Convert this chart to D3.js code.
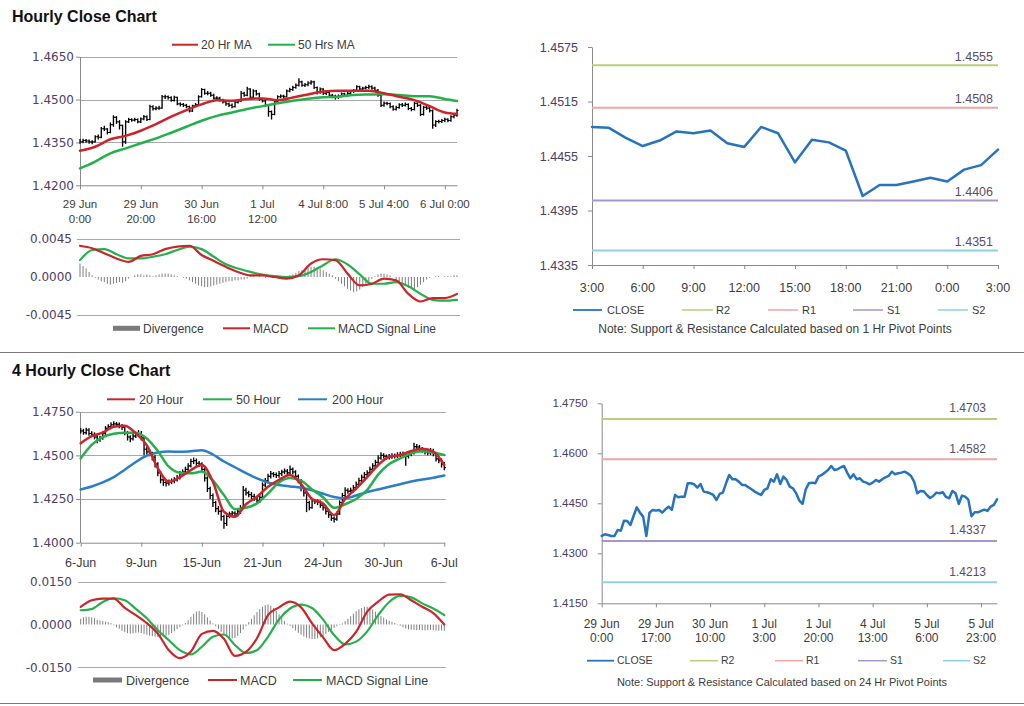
<!DOCTYPE html>
<html><head><meta charset="utf-8">
<script src="https://cdn.jsdelivr.net/npm/d3@7"></script>
<style>body{margin:0;background:#fff}svg{display:block}</style>
</head><body>
<svg id="chart" width="1024" height="706"></svg>
<script>
// ---------------- DATA ----------------
// Hourly bars (29 Jun 0:00 .. 6 Jul ~4:00), 125 bars
const hourlyClose = [1.4352,1.4357,1.4355,1.4352,1.4352,1.4370,1.4368,1.4398,1.4397,1.4385,
1.4412,1.4438,1.4422,1.4410,1.4352,1.4422,1.4430,1.4428,1.4430,1.4422,
1.4432,1.4440,1.4430,1.4475,1.4468,1.4470,1.4470,1.4510,1.4510,1.4507,
1.4497,1.4508,1.4485,1.4483,1.4480,1.4475,1.4460,1.4478,1.4482,1.4510,
1.4535,1.4522,1.4522,1.4515,1.4505,1.4505,1.4498,1.4492,1.4485,1.4480,
1.4475,1.4490,1.4495,1.4522,1.4515,1.4537,1.4508,1.4530,1.4520,1.4500,
1.4495,1.4480,1.4458,1.4448,1.4492,1.4510,1.4512,1.4510,1.4530,1.4535,
1.4542,1.4550,1.4562,1.4550,1.4552,1.4558,1.4562,1.4542,1.4525,1.4537,
1.4522,1.4525,1.4515,1.4512,1.4507,1.4512,1.4520,1.4515,1.4522,1.4528,
1.4532,1.4545,1.4537,1.4540,1.4542,1.4545,1.4540,1.4532,1.4515,1.4480,
1.4487,1.4486,1.4475,1.4466,1.4472,1.4482,1.4480,1.4483,1.4469,1.4465,
1.4487,1.4480,1.4448,1.4473,1.4470,1.4461,1.4411,1.4423,1.4423,1.4427,
1.4431,1.4427,1.4440,1.4445,1.4462];
const hourlyHigh = [1.4362,1.4363,1.4362,1.4360,1.4358,1.4375,1.4378,1.4404,1.4408,1.4400,
1.4420,1.4445,1.4442,1.4428,1.4412,1.4428,1.4436,1.4435,1.4436,1.4434,
1.4437,1.4446,1.4444,1.4482,1.4480,1.4477,1.4478,1.4516,1.4517,1.4514,
1.4512,1.4513,1.4510,1.4490,1.4488,1.4485,1.4479,1.4482,1.4488,1.4515,
1.4540,1.4538,1.4530,1.4527,1.4520,1.4512,1.4510,1.4503,1.4497,1.4490,
1.4486,1.4495,1.4500,1.4530,1.4527,1.4545,1.4540,1.4536,1.4534,1.4524,
1.4506,1.4500,1.4484,1.4462,1.4497,1.4515,1.4518,1.4517,1.4535,1.4541,
1.4548,1.4556,1.4575,1.4566,1.4558,1.4564,1.4568,1.4566,1.4546,1.4542,
1.4540,1.4530,1.4528,1.4520,1.4517,1.4518,1.4525,1.4524,1.4527,1.4533,
1.4537,1.4550,1.4548,1.4545,1.4548,1.4552,1.4550,1.4545,1.4537,1.4520,
1.4493,1.4492,1.4490,1.4480,1.4478,1.4487,1.4488,1.4490,1.4487,1.4474,
1.4492,1.4490,1.4484,1.4478,1.4478,1.4474,1.4465,1.4428,1.4429,1.4432,
1.4436,1.4435,1.4445,1.4450,1.4468];
const hourlyLow = [1.4345,1.4347,1.4349,1.4345,1.4344,1.4350,1.4360,1.4365,1.4390,1.4378,
1.4382,1.4405,1.4415,1.4395,1.4335,1.4345,1.4418,1.4422,1.4423,1.4417,
1.4418,1.4428,1.4425,1.4428,1.4462,1.4463,1.4464,1.4468,1.4502,1.4500,
1.4492,1.4493,1.4480,1.4476,1.4474,1.4470,1.4455,1.4457,1.4474,1.4480,
1.4507,1.4517,1.4515,1.4510,1.4500,1.4498,1.4493,1.4486,1.4478,1.4474,
1.4470,1.4472,1.4486,1.4492,1.4510,1.4512,1.4503,1.4505,1.4514,1.4496,
1.4490,1.4475,1.4440,1.4430,1.4445,1.4488,1.4505,1.4504,1.4507,1.4526,
1.4530,1.4538,1.4546,1.4545,1.4544,1.4547,1.4552,1.4537,1.4518,1.4520,
1.4516,1.4516,1.4508,1.4505,1.4500,1.4502,1.4508,1.4510,1.4510,1.4517,
1.4523,1.4528,1.4532,1.4532,1.4535,1.4537,1.4534,1.4527,1.4510,1.4474,
1.4475,1.4480,1.4470,1.4461,1.4462,1.4468,1.4474,1.4476,1.4463,1.4459,
1.4462,1.4474,1.4442,1.4444,1.4464,1.4455,1.4398,1.4404,1.4417,1.4418,
1.4421,1.4421,1.4422,1.4435,1.4440];
const hourlyMABars = [0,5,10,15,20,25,30,35,40,45,50,55,60,65,70,75,80,85,90,95,100,105,110,115,120,124];
const hourlyMA20 = [1.4321,1.4335,1.4361,1.4373,1.4391,1.4414,1.4440,1.4463,1.4483,1.4498,1.4496,1.4502,1.4504,1.4498,1.4507,1.4518,1.4528,1.4531,1.4531,1.4531,1.4522,1.4510,1.4498,1.4477,1.4455,1.4450];
const hourlyMA50 = [1.4259,1.4283,1.4312,1.4329,1.4347,1.4364,1.4384,1.4405,1.4426,1.4443,1.4455,1.4467,1.4477,1.4487,1.4496,1.4503,1.4508,1.4510,1.4516,1.4518,1.4519,1.4516,1.4512,1.4512,1.4502,1.4495];
const hourlyTickLabels = ["29 Jun\n0:00","29 Jun\n20:00","30 Jun\n16:00","1 Jul\n12:00","4 Jul 8:00","5 Jul 4:00","6 Jul 0:00"];
const hourlyYTicks = [1.4200,1.4350,1.4500,1.4650];
// hourly MACD (sampled every 4 bars)
const hourlyMacd = [0.0037,0.0034,0.0028,0.0022,0.0018,0.0025,0.0027,0.0033,0.0036,0.0037,0.0026,0.0019,0.0012,0.0006,0.0002,0.0002,0.0000,-0.0002,0.0002,0.0016,0.0021,0.0020,0.0004,-0.0010,-0.0008,-0.0002,-0.0004,-0.0020,-0.0029,-0.0025,-0.0025,-0.0020];
const hourlySignal = [0.0020,0.0032,0.0033,0.0027,0.0022,0.0022,0.0024,0.0027,0.0032,0.0036,0.0033,0.0024,0.0015,0.0010,0.0006,0.0003,0.0001,0.0000,0.0001,0.0006,0.0014,0.0021,0.0015,0.0003,-0.0008,-0.0008,-0.0006,-0.0011,-0.0020,-0.0027,-0.0028,-0.0027];
const hourlyDivergence = [0.0016,0.0013,0.0010,0.0006,0.0002,-0.0001,
-0.0003,-0.0005,-0.0006,-0.0008,-0.0009,-0.0008,-0.0007,-0.0006,-0.0007,-0.0005,
-0.0002,0.0000,0.0002,0.0003,0.0003,0.0002,0.0003,0.0002,0.0001,0.0002,0.0003,
0.0004,0.0004,0.0004,0.0003,0.0002,0.0001,0.0000,-0.0001,-0.0002,
-0.0004,-0.0006,-0.0008,-0.0010,-0.0011,-0.0012,-0.0012,-0.0011,-0.0010,-0.0009,-0.0008,-0.0007,-0.0006,-0.0005,-0.0005,-0.0004,-0.0004,-0.0003,-0.0003,-0.0002,
0.0001,0.0001,0.0000,0.0001,0.0000,-0.0001,0.0000,0.0001,0.0000,-0.0001,0.0000,0.0000,0.0001,0.0002,0.0003,
0.0005,0.0007,0.0008,0.0010,0.0011,0.0012,0.0012,0.0011,0.0010,0.0008,0.0006,0.0004,0.0002,
-0.0002,-0.0005,-0.0008,-0.0011,-0.0014,-0.0016,-0.0018,-0.0017,-0.0015,-0.0012,-0.0008,-0.0005,-0.0002,
0.0001,0.0003,0.0004,0.0004,0.0003,0.0002,0.0000,
-0.0003,-0.0006,-0.0009,-0.0011,-0.0013,-0.0014,-0.0014,-0.0012,-0.0009,-0.0006,-0.0003,
-0.0001,0.0000,0.0001,0.0001,0.0000,0.0001,0.0001,0.0001,0.0002,0.0002];
const hourlyMacdTicks = [-0.0045,0.0000,0.0045];

// 4-hourly bars (6 Jun .. 6 Jul), 133 bars
const fourClose = [1.4640,1.4630,1.4645,1.4625,1.4620,1.4605,1.4590,1.4600,1.4625,1.4655,
1.4665,1.4675,1.4680,1.4678,1.4670,1.4660,1.4630,1.4605,1.4595,1.4610,
1.4620,1.4625,1.4600,1.4535,1.4520,1.4510,1.4490,1.4450,1.4400,1.4360,
1.4345,1.4340,1.4348,1.4352,1.4360,1.4372,1.4395,1.4405,1.4420,1.4440,
1.4465,1.4470,1.4455,1.4450,1.4420,1.4370,1.4310,1.4270,1.4230,1.4195,
1.4180,1.4150,1.4110,1.4150,1.4165,1.4170,1.4165,1.4180,1.4200,1.4300,
1.4285,1.4275,1.4265,1.4255,1.4240,1.4260,1.4330,1.4355,1.4380,1.4395,
1.4390,1.4385,1.4395,1.4405,1.4410,1.4400,1.4420,1.4405,1.4380,1.4355,
1.4310,1.4285,1.4230,1.4200,1.4240,1.4235,1.4230,1.4215,1.4200,1.4180,
1.4160,1.4140,1.4135,1.4165,1.4230,1.4270,1.4300,1.4295,1.4300,1.4315,
1.4335,1.4355,1.4375,1.4390,1.4400,1.4420,1.4440,1.4460,1.4485,1.4500,
1.4495,1.4488,1.4492,1.4498,1.4495,1.4502,1.4505,1.4508,1.4495,1.4505,
1.4515,1.4550,1.4548,1.4535,1.4530,1.4520,1.4515,1.4528,1.4510,1.4480,
1.4470,1.4450,1.4430];
const fourHigh = [1.4655,1.4652,1.4658,1.4655,1.4638,1.4632,1.4615,1.4612,1.4638,1.4668,
1.4678,1.4690,1.4695,1.4692,1.4688,1.4680,1.4668,1.4640,1.4615,1.4625,
1.4635,1.4645,1.4640,1.4605,1.4548,1.4535,1.4520,1.4500,1.4460,1.4410,
1.4372,1.4358,1.4362,1.4368,1.4375,1.4388,1.4410,1.4420,1.4435,1.4455,
1.4480,1.4488,1.4482,1.4468,1.4460,1.4430,1.4380,1.4320,1.4282,1.4240,
1.4210,1.4192,1.4160,1.4165,1.4178,1.4182,1.4180,1.4195,1.4215,1.4325,
1.4315,1.4298,1.4290,1.4280,1.4268,1.4275,1.4345,1.4370,1.4395,1.4410,
1.4405,1.4402,1.4410,1.4418,1.4425,1.4422,1.4442,1.4430,1.4415,1.4390,
1.4365,1.4320,1.4295,1.4240,1.4252,1.4250,1.4248,1.4242,1.4228,1.4212,
1.4190,1.4172,1.4150,1.4178,1.4242,1.4285,1.4318,1.4312,1.4315,1.4330,
1.4350,1.4372,1.4390,1.4405,1.4415,1.4435,1.4455,1.4475,1.4500,1.4518,
1.4512,1.4505,1.4508,1.4512,1.4510,1.4518,1.4520,1.4522,1.4515,1.4518,
1.4530,1.4572,1.4565,1.4560,1.4548,1.4542,1.4535,1.4542,1.4538,1.4520,
1.4495,1.4482,1.4462];
const fourLow = [1.4625,1.4618,1.4620,1.4612,1.4608,1.4592,1.4570,1.4578,1.4590,1.4615,
1.4645,1.4655,1.4665,1.4665,1.4655,1.4645,1.4615,1.4585,1.4575,1.4585,
1.4600,1.4605,1.4585,1.4500,1.4505,1.4495,1.4470,1.4430,1.4380,1.4340,
1.4325,1.4322,1.4328,1.4335,1.4340,1.4350,1.4362,1.4385,1.4395,1.4410,
1.4430,1.4450,1.4440,1.4435,1.4405,1.4350,1.4290,1.4250,1.4205,1.4175,
1.4160,1.4125,1.4080,1.4095,1.4140,1.4150,1.4150,1.4150,1.4165,1.4195,
1.4270,1.4260,1.4250,1.4240,1.4225,1.4228,1.4255,1.4318,1.4342,1.4368,
1.4375,1.4370,1.4372,1.4382,1.4392,1.4385,1.4388,1.4390,1.4365,1.4340,
1.4295,1.4265,1.4175,1.4185,1.4195,1.4222,1.4215,1.4200,1.4185,1.4162,
1.4142,1.4125,1.4115,1.4125,1.4160,1.4220,1.4258,1.4280,1.4282,1.4288,
1.4305,1.4325,1.4342,1.4362,1.4378,1.4388,1.4408,1.4428,1.4450,1.4475,
1.4482,1.4475,1.4476,1.4480,1.4482,1.4485,1.4490,1.4492,1.4440,1.4482,
1.4495,1.4505,1.4535,1.4520,1.4515,1.4505,1.4500,1.4502,1.4495,1.4465,
1.4455,1.4430,1.4415];
// moving averages sampled every 4 bars
const four20 = [1.4569,1.4610,1.4630,1.4664,1.4670,1.4626,1.4559,1.4426,1.4349,1.4375,1.4416,1.4445,1.4349,1.4177,1.4149,1.4220,1.4263,1.4320,1.4360,1.4387,1.4335,1.4250,1.4225,1.4158,1.4250,1.4310,1.4375,1.4445,1.4492,1.4502,1.4525,1.4538,1.4521,1.4445];
const four50 = [1.4483,1.4560,1.4605,1.4624,1.4630,1.4630,1.4597,1.4525,1.4435,1.4400,1.4397,1.4407,1.4355,1.4273,1.4192,1.4200,1.4225,1.4282,1.4345,1.4370,1.4355,1.4305,1.4260,1.4200,1.4220,1.4250,1.4302,1.4390,1.4450,1.4483,1.4512,1.4523,1.4517,1.4502];
const four200 = [1.4305,1.4322,1.4345,1.4375,1.4418,1.4462,1.4498,1.4517,1.4522,1.4520,1.4524,1.4530,1.4505,1.4465,1.4432,1.4398,1.4368,1.4345,1.4330,1.4322,1.4315,1.4300,1.4280,1.4262,1.4255,1.4270,1.4290,1.4305,1.4320,1.4335,1.4350,1.4362,1.4372,1.4385];
const fourTickLabels = ["6-Jun","9-Jun","15-Jun","21-Jun","24-Jun","30-Jun","6-Jul"];
const fourYTicks = [1.4000,1.4250,1.4500,1.4750];
const fourMacd = [0.0062,0.0085,0.0091,0.0091,0.0058,0.0033,0.0005,-0.0032,-0.0090,-0.0118,-0.0095,-0.0033,-0.0022,-0.0050,-0.0110,-0.0096,-0.0048,0.0033,0.0060,0.0080,0.0060,0.0004,-0.0045,-0.0090,-0.0068,-0.0026,0.0045,0.0080,0.0105,0.0106,0.0085,0.0062,0.0040,0.0000];
const fourSignal = [0.0050,0.0054,0.0079,0.0092,0.0085,0.0055,0.0022,-0.0020,-0.0055,-0.0090,-0.0105,-0.0078,-0.0043,-0.0035,-0.0072,-0.0100,-0.0090,-0.0043,0.0018,0.0056,0.0070,0.0058,0.0017,-0.0037,-0.0070,-0.0060,-0.0024,0.0033,0.0079,0.0100,0.0095,0.0074,0.0056,0.0033];
const fourDivergence = [0.0020,0.0025,0.0027,0.0027,0.0025,0.0022,
0.0016,0.0014,0.0012,0.0010,0.0008,0.0005,
-0.0003,-0.0010,-0.0015,-0.0022,-0.0027,-0.0030,-0.0032,-0.0031,-0.0029,-0.0028,-0.0030,-0.0033,-0.0036,
-0.0039,-0.0041,-0.0043,-0.0044,-0.0043,-0.0042,-0.0040,-0.0036,-0.0030,-0.0024,-0.0016,-0.0009,-0.0003,
0.0005,0.0015,0.0027,0.0038,0.0045,0.0047,0.0044,0.0036,0.0025,0.0014,0.0004,
-0.0006,-0.0016,-0.0026,-0.0035,-0.0042,-0.0047,-0.0049,-0.0047,-0.0040,-0.0030,-0.0018,-0.0006,
0.0008,0.0020,0.0032,0.0044,0.0054,0.0062,0.0068,0.0070,0.0066,0.0058,0.0048,0.0036,0.0024,0.0012,0.0003,
-0.0005,-0.0013,-0.0021,-0.0029,-0.0036,-0.0042,-0.0046,-0.0049,-0.0051,-0.0051,-0.0049,-0.0045,-0.0040,-0.0033,-0.0026,-0.0019,-0.0012,-0.0006,-0.0002,
0.0004,0.0012,0.0020,0.0029,0.0038,0.0046,0.0053,0.0058,0.0062,0.0062,0.0058,0.0052,0.0045,0.0037,0.0030,0.0024,0.0018,0.0013,0.0009,0.0005,0.0002,
-0.0005,-0.0010,-0.0014,-0.0017,-0.0018,-0.0019,-0.0020,-0.0019,-0.0020,-0.0021,-0.0020,-0.0019,-0.0020,-0.0021,-0.0022,-0.0021,-0.0022];
const fourMacdTicks = [-0.0150,0.0000,0.0150];

// Pivot charts
const pivotNames = ["R2","R1","S1","S2"];
const hourPivotLevels = [1.4555,1.4508,1.4406,1.4351];
const dayPivotLevels = [1.4703,1.4582,1.4337,1.4213];
const hourPivotClose = [1.4487,1.4486,1.4475,1.4466,1.4472,1.4482,1.4480,1.4483,1.4469,1.4465,
1.4487,1.4480,1.4448,1.4473,1.4470,1.4461,1.4411,1.4423,1.4423,1.4427,1.4431,1.4427,1.4440,1.4445,1.4462];
const hourPivotTickLabels = ["3:00","6:00","9:00","12:00","15:00","18:00","21:00","0:00","3:00"];
const hourPivotYTicks = [1.4335,1.4395,1.4455,1.4515,1.4575];
const dayPivotTickLabels = ["29 Jun\n0:00","29 Jun\n17:00","30 Jun\n10:00","1 Jul\n3:00","1 Jul\n20:00","4 Jul\n13:00","5 Jul\n6:00","5 Jul\n23:00"];
const dayPivotYTicks = [1.4150,1.4300,1.4450,1.4600,1.4750];

// ---------------- STYLE ----------------
const F = '"Liberation Sans", Arial, sans-serif';
const FW = '"DejaVu Sans", sans-serif';
const AX = '#8a8a8a', GRID = '#a8a8a8', TXT = '#3c3c3c', YTXT = '#4e3d62';
const RED = '#c9252b', GREEN = '#26b04c', BLUE = '#2c7ec6', CLOSE = '#2773bd';
const PIVOT_COLORS = ['#b6d07a','#eca6a6','#a796c8','#8dd2e3'];

const svg = d3.select('#chart');

function txt(g, x, y, s, o = {}) {
  return g.append('text').attr('x', x).attr('y', y).text(s)
    .attr('font-family', o.font || F).attr('font-size', o.size || 12)
    .attr('fill', o.fill || TXT).attr('text-anchor', o.anchor || 'start')
    .attr('font-weight', o.weight || 'normal');
}
function legLine(g, x1, x2, y, color, w, label, tx, size) {
  g.append('line').attr('x1', x1).attr('x2', x2).attr('y1', y).attr('y2', y)
    .attr('stroke', color).attr('stroke-width', w);
  txt(g, tx, y + size * 0.36, label, { size });
}
function legRect(g, x1, x2, y, label, tx, size) {
  g.append('rect').attr('x', x1).attr('y', y - 2.5).attr('width', x2 - x1).attr('height', 5).attr('fill', '#7a7a7a');
  txt(g, tx, y + size * 0.36, label, { size });
}
function grid(g, y, ticks, x1, x2) {
  g.append('g').selectAll('line').data(ticks).join('line')
    .attr('x1', x1).attr('x2', x2)
    .attr('y1', d => Math.round(y(d)) + 0.5).attr('y2', d => Math.round(y(d)) + 0.5)
    .attr('stroke', GRID).attr('stroke-width', 1);
}
function leftAxis(g, y, ticks, x, fmt, pad, font, size, color, showDomain = true) {
  const a = d3.axisLeft(y).tickValues(ticks).tickSize(4).tickSizeOuter(0).tickPadding(pad).tickFormat(fmt);
  const s = g.append('g').attr('transform', `translate(${x},0)`).call(a);
  s.select('.domain').attr('stroke', showDomain ? AX : 'none');
  s.selectAll('.tick line').attr('stroke', showDomain ? AX : 'none');
  s.selectAll('.tick text').attr('font-family', font).attr('font-size', size).attr('fill', color);
}
function bottomAxis(g, xs, ticks, labels, y, size, base, lineH) {
  const a = d3.axisBottom(xs).tickValues(ticks).tickSize(4).tickSizeOuter(0).tickFormat('');
  const s = g.append('g').attr('transform', `translate(0,${y})`).call(a);
  s.select('.domain').attr('stroke', AX);
  s.selectAll('.tick line').attr('stroke', AX);
  ticks.forEach((t, k) => {
    labels[k].split('\n').forEach((ln, j) => txt(g, xs(t), base + j * lineH, ln, { size, anchor: 'middle' }));
  });
}
function ohlc(g, xs, ys, high, low, close) {
  const idx = d3.range(close.length);
  const b = g.append('g').attr('stroke', '#000');
  b.selectAll('line.hl').data(idx).join('line').attr('class', 'hl')
    .attr('x1', i => xs(i)).attr('x2', i => xs(i))
    .attr('y1', i => ys(high[i])).attr('y2', i => ys(low[i])).attr('stroke-width', 1.35);
  b.selectAll('line.c').data(idx).join('line').attr('class', 'c')
    .attr('x1', i => xs(i)).attr('x2', i => xs(i) + 1.6)
    .attr('y1', i => ys(close[i])).attr('y2', i => ys(close[i])).attr('stroke-width', 1.1);
  b.selectAll('line.o').data(idx.slice(1)).join('line').attr('class', 'o')
    .attr('x1', i => xs(i) - 1.6).attr('x2', i => xs(i))
    .attr('y1', i => ys(close[i - 1])).attr('y2', i => ys(close[i - 1])).attr('stroke-width', 1.1);
}
function series(g, xs, ys, idx, vals, color, w, curve) {
  const line = d3.line().x((d, k) => xs(idx[k])).y(d => ys(d)).curve(curve || d3.curveMonotoneX);
  g.append('path').datum(vals).attr('d', line).attr('fill', 'none')
    .attr('stroke', color).attr('stroke-width', w).attr('stroke-linejoin', 'round').attr('stroke-linecap', 'round');
}
function bars(g, xs, ys, vals) {
  g.append('g').selectAll('line').data(vals).join('line')
    .attr('x1', (d, i) => xs(i)).attr('x2', (d, i) => xs(i))
    .attr('y1', ys(0)).attr('y2', d => ys(d))
    .attr('stroke', '#7f7f7f').attr('stroke-width', 1);
}
const f4 = d => d3.format('.4f')(d).replace('\u2212', '-');

// ---------------- TITLES / SEPARATORS ----------------
txt(svg, 12, 22, 'Hourly Close Chart', { size: 16, weight: 'bold', fill: '#111' });
txt(svg, 12, 376, '4 Hourly Close Chart', { size: 16, weight: 'bold', fill: '#111' });
svg.append('line').attr('x1', 0).attr('x2', 1024).attr('y1', 352.5).attr('y2', 352.5).attr('stroke', '#7a7a7a');
svg.append('line').attr('x1', 0).attr('x2', 1024).attr('y1', 703.5).attr('y2', 703.5).attr('stroke', '#7a7a7a');

// ---------------- HOURLY PRICE (top-left) ----------------
{
  const g = svg.append('g');
  const xs = d3.scaleLinear().domain([0, 124]).range([80, 457]);
  const ys = d3.scaleLinear().domain([1.4200, 1.4650]).range([185.3, 56.7]);
  grid(g, ys, hourlyYTicks.slice(1), 80, 457);
  leftAxis(g, ys, hourlyYTicks, 80, f4, 2, FW, 12, YTXT);
  bottomAxis(g, xs, d3.range(0, 125, 20), hourlyTickLabels, 185.3, 11.5, 208, 15);
  ohlc(g, xs, ys, hourlyHigh, hourlyLow, hourlyClose);
  series(g, xs, ys, hourlyMABars, hourlyMA50, GREEN, 2.5);
  series(g, xs, ys, hourlyMABars, hourlyMA20, RED, 2.5);
  legLine(g, 172, 198, 44.7, RED, 2, '20 Hr MA', 201, 12);
  legLine(g, 268, 295, 44.7, GREEN, 2, '50 Hrs MA', 298, 12);
}
// ---------------- HOURLY MACD ----------------
{
  const g = svg.append('g');
  const xs = d3.scaleLinear().domain([0, 124]).range([80, 457]);
  const ys = d3.scaleLinear().domain([-0.0045, 0.0045]).range([315, 239]);
  grid(g, ys, [-0.0045, 0.0045], 77, 460);
  leftAxis(g, ys, hourlyMacdTicks, 80, f4, 4, FW, 12, YTXT, false);
  bars(g, xs, ys, hourlyDivergence);
  const idx = hourlyMacd.map((d, k) => k * 4);
  series(g, xs, ys, idx, hourlySignal, GREEN, 2.2);
  series(g, xs, ys, idx, hourlyMacd, RED, 2.2);
  legRect(g, 113, 140, 328.3, 'Divergence', 143, 12);
  legLine(g, 223, 250, 328.3, RED, 2, 'MACD', 253, 12);
  legLine(g, 308, 335, 328.3, GREEN, 2, 'MACD  Signal Line', 338, 12);
}
// ---------------- 4-HOURLY PRICE ----------------
{
  const g = svg.append('g');
  const xs = d3.scaleLinear().domain([0, 132]).range([80.7, 444.3]);
  const ys = d3.scaleLinear().domain([1.4000, 1.4750]).range([542.7, 411.7]);
  grid(g, ys, fourYTicks.slice(1), 80, 446);
  leftAxis(g, ys, fourYTicks, 80, f4, 2, FW, 12, YTXT);
  bottomAxis(g, xs, d3.range(0, 133, 22), fourTickLabels, 542.7, 12.5, 566.5, 15);
  ohlc(g, xs, ys, fourHigh, fourLow, fourClose);
  const idx = four20.map((d, k) => k * 4);
  series(g, xs, ys, idx, four200, BLUE, 2.5);
  series(g, xs, ys, idx, four50, GREEN, 2.5);
  series(g, xs, ys, idx, four20, RED, 2.5);
  legLine(g, 107, 135, 399.3, RED, 2, '20 Hour', 139, 12.5);
  legLine(g, 203, 232, 399.3, GREEN, 2, '50 Hour', 236, 12.5);
  legLine(g, 298, 327, 399.3, BLUE, 2, '200 Hour', 332, 12.5);
}
// ---------------- 4-HOURLY MACD ----------------
{
  const g = svg.append('g');
  const xs = d3.scaleLinear().domain([0, 132]).range([80.7, 444.3]);
  const ys = d3.scaleLinear().domain([-0.0150, 0.0150]).range([667.3, 581.7]);
  grid(g, ys, [-0.0150, 0.0150], 78, 446);
  leftAxis(g, ys, fourMacdTicks, 80, f4, 4, FW, 12, YTXT, false);
  bars(g, xs, ys, fourDivergence);
  const idx = fourMacd.map((d, k) => k * 4);
  series(g, xs, ys, idx, fourSignal, GREEN, 2.2);
  series(g, xs, ys, idx, fourMacd, RED, 2.2);
  legRect(g, 93, 122, 680, 'Divergence', 126, 12.5);
  legLine(g, 208, 237, 680, RED, 2, 'MACD', 240, 12.5);
  legLine(g, 293, 322, 680, GREEN, 2, 'MACD  Signal Line', 326, 12.5);
}
// ---------------- PIVOT CHART HELPER ----------------
function pivotChart(o) {
  const g = svg.append('g');
  const xs = d3.scaleLinear().domain([0, o.close.length - 1]).range([o.x0, o.x1]);
  const ys = d3.scaleLinear().domain(o.yDomain).range([o.y1, o.y0]);
  leftAxis(g, ys, o.yTicks, o.x0, f4, o.yPad, F, o.ySize, YTXT);
  bottomAxis(g, xs, d3.range(0, o.close.length, o.tickStep), o.tickLabels, o.y1, o.xSize, o.xBase, 14);
  o.levels.forEach((v, k) => {
    g.append('line').attr('x1', o.x0).attr('x2', o.x1).attr('y1', ys(v)).attr('y2', ys(v))
      .attr('stroke', PIVOT_COLORS[k]).attr('stroke-width', 2);
    txt(g, o.labelX, ys(v) - o.labelOff, f4(v), { size: o.labelSize, anchor: 'end', fill: '#5a4d68' });
  });
  series(g, xs, ys, d3.range(o.close.length), o.close, CLOSE, 2.5, d3.curveLinear);
  legLine(g, o.leg[0][0], o.leg[0][1], o.legY, CLOSE, 1.8, 'CLOSE', o.leg[0][2], o.legSize);
  pivotNames.forEach((n, k) => legLine(g, o.leg[k + 1][0], o.leg[k + 1][1], o.legY, PIVOT_COLORS[k], 1.5, n, o.leg[k + 1][2], o.legSize));
  txt(g, o.noteX, o.noteY, o.note, { size: o.noteSize, anchor: 'middle' });
}
pivotChart({
  close: hourPivotClose, x0: 592, x1: 998, y0: 47, y1: 265,
  yDomain: [1.4335, 1.4575], yTicks: hourPivotYTicks, yPad: 10, ySize: 12.5,
  tickStep: 3, tickLabels: hourPivotTickLabels, xSize: 12.5, xBase: 291.5,
  levels: hourPivotLevels, labelX: 993, labelOff: 4.5, labelSize: 12.5,
  legY: 310, legSize: 11,
  leg: [[573, 602, 607], [682, 713, 716], [768, 798, 802], [853, 883, 887], [938, 968, 972]],
  note: 'Note: Support & Resistance Calculated based on 1 Hr Pivot Points', noteX: 775, noteY: 333, noteSize: 12
});
pivotChart({
  close: hourlyClose, x0: 601.7, x1: 997, y0: 403.3, y1: 603.3,
  yDomain: [1.4150, 1.4750], yTicks: dayPivotYTicks, yPad: 10, ySize: 11.5,
  tickStep: 17, tickLabels: dayPivotTickLabels, xSize: 12, xBase: 628,
  levels: dayPivotLevels, labelX: 986, labelOff: 6.5, labelSize: 12,
  legY: 660.7, legSize: 10.5,
  leg: [[587, 614, 617], [690, 718, 721], [775, 803, 806], [858, 887, 890], [943, 970, 973]],
  note: 'Note: Support & Resistance Calculated based on 24 Hr Pivot Points', noteX: 782, noteY: 685.5, noteSize: 11
});
</script>
</body></html>
